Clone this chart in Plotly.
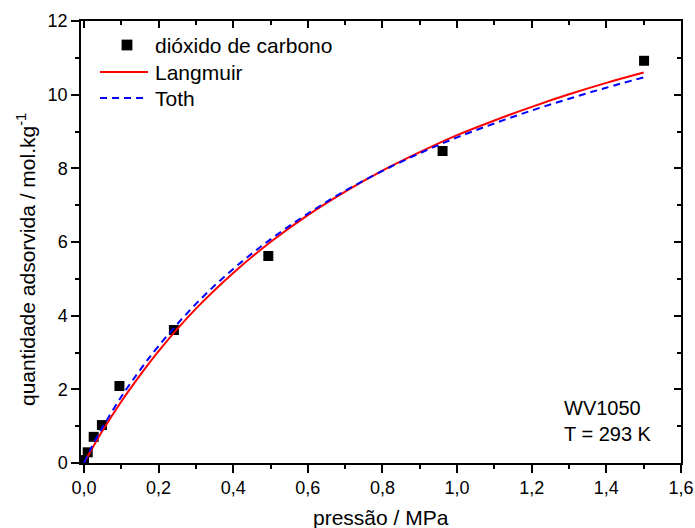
import plotly.graph_objects as go

# Measured CO2 adsorption isotherm (WV1050, 293 K)
pressure = [0.0, 0.01, 0.026, 0.048, 0.095, 0.241, 0.494, 0.961, 1.501]
uptake = [0.08, 0.29, 0.71, 1.03, 2.09, 3.61, 5.62, 8.47, 10.92]

# Model curves
p_model = [0.0, 0.02, 0.05, 0.1, 0.15, 0.2, 0.3, 0.4, 0.5, 0.6, 0.7,
           0.8, 0.9, 1.0, 1.1, 1.2, 1.3, 1.4, 1.5]
q_langmuir = [0.0, 0.36, 0.88, 1.67, 2.38, 3.04, 4.19, 5.16, 6.00, 6.73, 7.37,
              7.94, 8.44, 8.90, 9.30, 9.67, 10.01, 10.32, 10.60]
q_toth = [0.0, 0.42, 0.97, 1.80, 2.52, 3.18, 4.32, 5.27, 6.07, 6.77, 7.39,
          7.93, 8.41, 8.84, 9.22, 9.57, 9.89, 10.19, 10.47]

x_ticks = [0.0, 0.2, 0.4, 0.6, 0.8, 1.0, 1.2, 1.4, 1.6]
y_ticks = [0, 2, 4, 6, 8, 10, 12]

legend_labels = ["dióxido de carbono", "Langmuir", "Toth"]

FONT = "Liberation Sans, Arial, sans-serif"
W, H = 695, 528
ML, MR, MT, MB = 81, 14, 21, 65
PW, PH = W - ML - MR, H - MT - MB
DASH = "7px,5px"


def px_x(px):
    """pixel column -> paper x of the plot domain"""
    return (px - ML) / PW


def px_y(py):
    """pixel row -> paper y of the plot domain"""
    return (H - MB - py) / PH


fig = go.Figure()
fig.add_trace(go.Scatter(
    x=pressure, y=uptake, mode="markers", name=legend_labels[0],
    marker=dict(symbol="square", size=10, color="black"), showlegend=False,
))
fig.add_trace(go.Scatter(
    x=p_model, y=q_langmuir, mode="lines", name=legend_labels[1],
    line=dict(color="#ff0000", width=2, shape="spline"), showlegend=False,
))
fig.add_trace(go.Scatter(
    x=p_model, y=q_toth, mode="lines", name=legend_labels[2],
    line=dict(color="#0000ff", width=2, dash=DASH, shape="spline"), showlegend=False,
))
# carrier for the mirrored top/right axes
fig.add_trace(go.Scatter(x=[0.8], y=[6], xaxis="x2", yaxis="y2", mode="markers",
                         marker=dict(opacity=0), showlegend=False, hoverinfo="skip"))

xr = [-0.008, 1.6]
yr = [0, 12]
axis_common = dict(showgrid=False, zeroline=False, showline=True, linecolor="black",
                   linewidth=1.5, tickcolor="black", tickwidth=1.5, automargin=False)

fig.update_layout(
    width=W, height=H,
    margin=dict(l=ML, r=MR, t=MT, b=MB),
    paper_bgcolor="white", plot_bgcolor="white",
    separators=",.",
    font=dict(family=FONT, size=18, color="black"),
    showlegend=False,
    xaxis=dict(range=xr, tickmode="array", tickvals=x_ticks, tickformat=".1f",
               ticks="outside", ticklen=8,
               minor=dict(dtick=0.1, ticks="outside", ticklen=4, tickcolor="black", tickwidth=1.5),
               tickfont=dict(size=18), **axis_common),
    yaxis=dict(range=yr, tickmode="array", tickvals=y_ticks,
               ticks="outside", ticklen=8,
               minor=dict(dtick=1, ticks="outside", ticklen=4, tickcolor="black", tickwidth=1.5),
               tickfont=dict(size=18), **axis_common),
    xaxis2=dict(range=xr, overlaying="x", side="top", anchor="y2", tickmode="array",
                tickvals=x_ticks, ticks="inside", ticklen=7, showticklabels=False,
                minor=dict(dtick=0.1, ticks="inside", ticklen=4, tickcolor="black", tickwidth=1.5),
                **axis_common),
    yaxis2=dict(range=yr, overlaying="y", side="right", anchor="x2", tickmode="array",
                tickvals=y_ticks, ticks="inside", ticklen=7, showticklabels=False,
                minor=dict(dtick=1, ticks="inside", ticklen=4, tickcolor="black", tickwidth=1.5),
                **axis_common),
)

# axis titles
fig.add_annotation(
    x=0.5, y=px_y(517), xref="paper", yref="paper", xanchor="center", yanchor="middle",
    text="pressão / MPa", showarrow=False, font=dict(size=21),
)
fig.add_annotation(
    x=px_x(26), y=px_y(260), xref="paper", yref="paper", xanchor="center", yanchor="middle",
    text="quantidade adsorvida / mol.kg<sup>-1</sup>", showarrow=False, textangle=-90,
    font=dict(size=21),
)

# legend box: symbols drawn as shapes, labels as text
leg_rows = [45, 72, 98]
sq = 5.4
fig.add_shape(type="rect", xref="paper", yref="paper",
              x0=px_x(127 - sq), x1=px_x(127 + sq), y0=px_y(45 + sq), y1=px_y(45 - sq),
              fillcolor="black", line=dict(width=0))
fig.add_shape(type="line", xref="paper", yref="paper",
              x0=px_x(100), x1=px_x(148), y0=px_y(leg_rows[1]), y1=px_y(leg_rows[1]),
              line=dict(color="#ff0000", width=2))
fig.add_shape(type="line", xref="paper", yref="paper",
              x0=px_x(100), x1=px_x(148), y0=px_y(leg_rows[2]), y1=px_y(leg_rows[2]),
              line=dict(color="#0000ff", width=2, dash=DASH))
for label, row in zip(legend_labels, leg_rows):
    fig.add_annotation(
        x=px_x(153), y=px_y(row), xref="paper", yref="paper", xanchor="left",
        yanchor="middle", text=label, showarrow=False, font=dict(size=21),
    )

fig.add_annotation(
    x=1.282, y=1.14, xref="x", yref="y", xanchor="left", yanchor="middle",
    text="WV1050<br>T = 293 K", showarrow=False, align="left",
    font=dict(size=20, family=FONT, color="black"),
)

fig.write_html("out.html")
